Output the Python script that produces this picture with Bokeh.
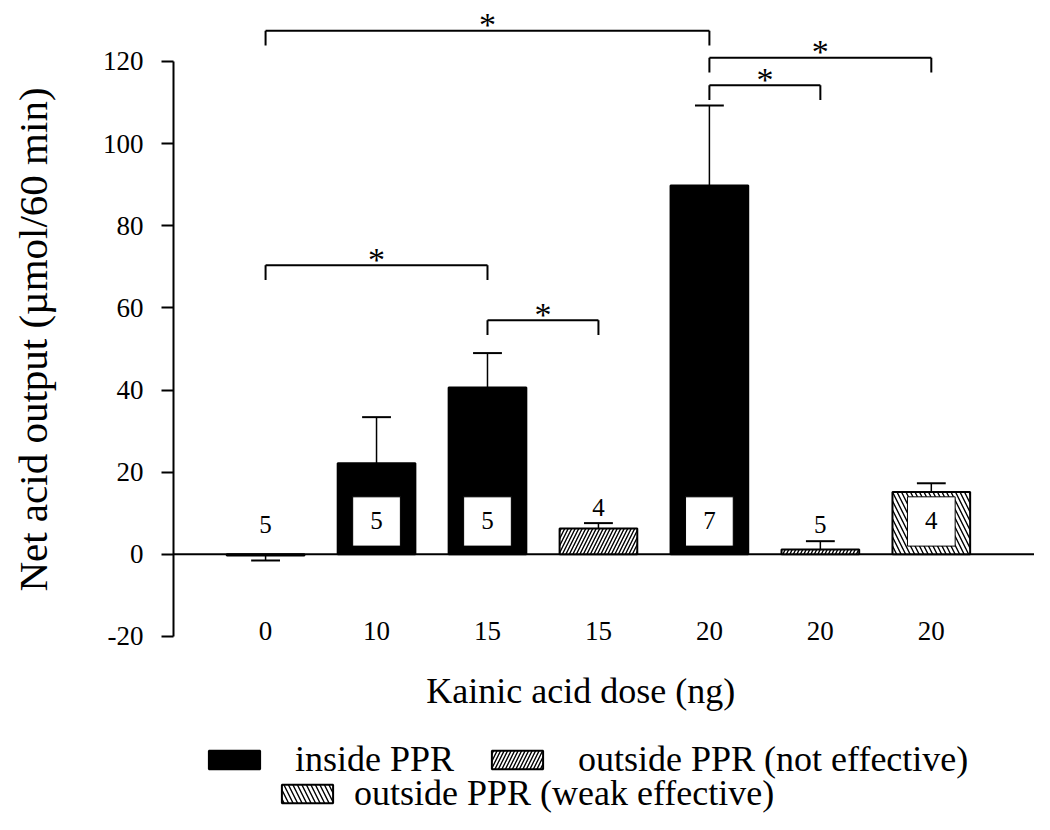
import math
from bokeh.plotting import figure
from bokeh.models import Range1d, FixedTicker, ColumnDataSource, Legend, LegendItem, Span
from bokeh.core.properties import value
from bokeh.embed import file_html
from bokeh.resources import INLINE

# ---------------- data ----------------
doses = ["0", "10", "15", "15", "20", "20", "20"]
groups = ["inside", "inside", "inside", "not", "inside", "not", "weak"]
means = [-0.3, 22.2, 40.6, 6.3, 89.8, 1.2, 15.2]
sems = [1.2, 11.2, 8.4, 1.3, 19.5, 2.0, 2.1]
n_animals = [5, 5, 5, 4, 7, 5, 4]
boxed = [False, True, True, False, True, False, True]
sig_pairs = [(0, 4), (4, 6), (4, 5), (0, 2), (2, 3)]
sig_levels = [127.5, 120.9, 114.2, 70.4, 57.0]
y_ticks = [-20, 0, 20, 40, 60, 80, 100, 120]
x_title = "Kainic acid dose (ng)"
y_title = "Net acid output (µmol/60 min)"
legend_labels = {"inside": "inside PPR",
                 "not": "outside PPR (not effective)",
                 "weak": "outside PPR (weak effective)"}

FONT = "Liberation Serif"
xs = list(range(len(doses)))
AXIS_X = -0.83

p = figure(width=1034, height=814, output_backend="svg", toolbar_location=None,
           x_range=Range1d(-2.389, 6.93), y_range=Range1d(-63.35, 134.85))
p.min_border = 0
p.grid.visible = False
p.outline_line_color = None
p.xaxis.visible = False

# y axis (placed at a fixed x inside the frame)
yax = p.yaxis[0]
yax.fixed_location = AXIS_X
yax.ticker = FixedTicker(ticks=y_ticks)
yax.major_label_overrides = {t: str(t) for t in y_ticks}
yax.bounds = (-20, 120)
yax.axis_line_width = 2
yax.major_tick_line_width = 2
yax.major_tick_out = 12
yax.major_tick_in = 0
yax.minor_tick_line_color = None
yax.major_label_standoff = 18
yax.major_label_text_font = FONT
yax.major_label_text_font_size = "27px"
yax.major_label_text_color = "black"

# axis titles
p.text(x=[AXIS_X - 1.27], y=[52.3], text=[y_title], angle=math.pi / 2,
       text_font=value(FONT), text_font_size="41px", text_align="center",
       text_baseline="middle", text_color="black")
p.text(x=[2.84], y=[-33.2], text=[x_title], text_font=value(FONT), text_font_size="36px",
       text_align="center", text_baseline="alphabetic", y_offset=0, text_color="black")

# x category labels (at the -20 level, below the baseline)
p.text(x=xs, y=-19.0, text=doses, text_font=value(FONT), text_font_size="27px",
       text_align="center", text_baseline="alphabetic", y_offset=-1, text_color="black")

# zero line, from the y axis to the right edge
p.segment(x0=[AXIS_X], y0=[0], x1=[6.93], y1=[0], line_color="black", line_width=2)

# bars
styles = {
    "inside": dict(fill_color="black", line_color="black"),
    "not": dict(fill_color="white", line_color="black", hatch_pattern="/",
                hatch_color="black", hatch_scale=7, hatch_weight=1.4),
    "weak": dict(fill_color="white", line_color="black", hatch_pattern="\\",
                 hatch_color="black", hatch_scale=9, hatch_weight=1.4),
}
renderers = {}
for g in ["inside", "not", "weak"]:
    idx = [i for i in xs if groups[i] == g]
    src = ColumnDataSource(dict(x=[xs[i] for i in idx], top=[means[i] for i in idx]))
    renderers[g] = p.vbar(x="x", top="top", bottom=0, width=0.70, source=src,
                          line_width=2, **styles[g])

# white boxes with n
bi = [i for i in xs if boxed[i]]
p.rect(x=[xs[i] for i in bi], y=8, width=0.43, height=12,
       fill_color="white", line_color="black", line_width=1)
p.text(x=[xs[i] for i in bi], y=8, text=[str(n_animals[i]) for i in bi],
       text_font=value(FONT), text_font_size="25px", text_align="center",
       text_baseline="alphabetic", y_offset=-1, text_color="black")

# error bars (one-sided)
ends = [m + s if m >= 0 else m - s for m, s in zip(means, sems)]
p.segment(x0=xs, y0=means, x1=xs, y1=ends, line_color="black", line_width=1.5)
p.segment(x0=[x - 0.13 for x in xs], y0=ends, x1=[x + 0.13 for x in xs], y1=ends,
          line_color="black", line_width=2)

# n above unboxed bars
ui = [i for i in xs if not boxed[i]]
p.text(x=[xs[i] for i in ui], y=[max(ends[i], 3.5) + 3.6 for i in ui],
       text=[str(n_animals[i]) for i in ui],
       text_font=value(FONT), text_font_size="25px", text_align="center",
       text_baseline="alphabetic", y_offset=-1, text_color="black")

# significance brackets
bx0, bx1, by, byd, sx = [], [], [], [], []
for (a, b), lvl in zip(sig_pairs, sig_levels):
    bx0.append(xs[a]); bx1.append(xs[b]); by.append(lvl); byd.append(lvl - 3.6)
    sx.append((xs[a] + xs[b]) / 2)
p.segment(x0=bx0, y0=by, x1=bx1, y1=by, line_color="black", line_width=2)
p.segment(x0=bx0, y0=by, x1=bx0, y1=byd, line_color="black", line_width=2)
p.segment(x0=bx1, y0=by, x1=bx1, y1=byd, line_color="black", line_width=2)
p.text(x=sx, y=by, text=["*"] * len(sx), text_font=value(FONT), text_font_size="34px",
       text_align="center", text_baseline="alphabetic", y_offset=-6, text_color="black")

# legends (inside the frame, at the bottom)
common = dict(orientation="horizontal", margin=0, padding=0, border_line_color=None,
              background_fill_alpha=0, glyph_width=64, glyph_height=23,
              label_text_font=FONT, label_text_font_size="36px",
              spacing=31, label_text_color="black")
leg1 = Legend(items=[LegendItem(label=legend_labels["inside"], renderers=[renderers["inside"]]),
                     LegendItem(label=legend_labels["not"], renderers=[renderers["not"]])],
              location=(202, 34), label_standoff=29, **common)
leg2 = Legend(items=[LegendItem(label=legend_labels["weak"], renderers=[renderers["weak"]])],
              location=(275, 0), label_standoff=15, **common)
p.add_layout(leg1)
p.add_layout(leg2)

open("out.html", "w").write(file_html(p, INLINE))
